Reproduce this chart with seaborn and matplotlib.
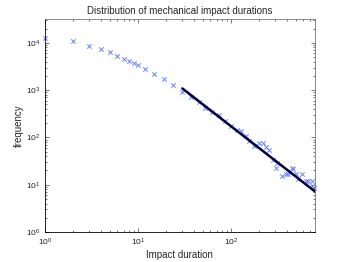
import seaborn as sns
import matplotlib.pyplot as plt
import pandas as pd

# impact durations (x) and how often they occur (y)
durations = [1, 2, 3, 4, 5, 6, 7, 8, 9, 10, 12, 15, 19, 24, 30, 37, 45, 53, 63, 75,
             87, 100, 115, 128, 145, 157, 179, 198, 221, 238, 258, 284, 304, 316,
             358, 389, 415, 451, 470, 498, 532, 587, 638, 680, 740, 751, 790]
frequency = [12800, 10900, 8650, 7360, 6270, 5250, 4610, 4120, 3680, 3340, 2800, 2210,
             1700, 1260, 920, 720, 566, 417, 340, 300, 218, 173, 143, 136, 107, 85,
             66, 77, 75, 63, 54, 33, 23, 29, 15, 17, 16.5, 22, 21, 17, 13.5, 17, 12,
             12, 12, 9.3, 8.5]

# power-law fit, end points
fit_x = [30, 800]
fit_y = [1085, 7.2]

sns.set_style("ticks")
plt.rcParams['font.family'] = ['Liberation Sans', 'DejaVu Sans']

fig = plt.figure(figsize=(3.48, 2.62), dpi=100)
ax = fig.add_axes([0.129, 0.1145, 0.776, 0.8125])

df = pd.DataFrame({'duration': durations, 'frequency': frequency})
fit = pd.DataFrame({'duration': fit_x, 'frequency': fit_y})

sns.scatterplot(data=df, x='duration', y='frequency', marker='x', color='#6680ff',
                s=10, linewidth=0.7, ax=ax, zorder=2, clip_on=False)
sns.lineplot(data=fit, x='duration', y='frequency', color='#000040', linewidth=1.8,
             ax=ax, zorder=3)

ax.set_xscale('log')
ax.set_yscale('log')
ax.set_xlim(1, 800)
ax.set_ylim(1, 10**4.5)

ax.tick_params(which='both', direction='in', top=True, right=True, labelsize=6,
               width=0.5, color='#444444', labelcolor='#222222')
ax.tick_params(which='major', length=3)
ax.tick_params(which='minor', length=1.5)
for s in ax.spines.values():
    s.set_linewidth(0.6)
    s.set_color('black')
ax.spines['right'].set_color('#777777')
ax.spines['top'].set_color('#777777')

ax.set_title('Distribution of mechanical impact durations', fontsize=7, pad=4)
ax.set_xlabel('Impact duration', fontsize=7, labelpad=1)
ax.set_ylabel('frequency', fontsize=7, labelpad=1)

plt.savefig('out.png', dpi=100)
